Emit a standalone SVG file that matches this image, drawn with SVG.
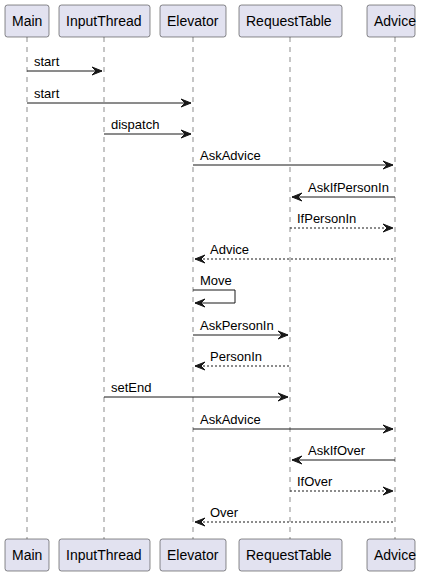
<svg xmlns="http://www.w3.org/2000/svg" width="428" height="577" viewBox="0 0 428 577">
<style>
.box{fill:#E2E2F0;stroke:#181818;stroke-width:0.5}
.pt{font-family:"Liberation Sans",Arial,sans-serif;font-size:14px;fill:#000}
.mt{font-family:"Liberation Sans",Arial,sans-serif;font-size:13px;fill:#000}
.life{stroke:#181818;stroke-width:0.5;stroke-dasharray:5,5}
.msg{stroke:#181818;stroke-width:1;fill:none}
.dash{stroke:#181818;stroke-width:1;fill:none;stroke-dasharray:2,2}
.ah{fill:#181818;stroke:#181818;stroke-width:1}
</style>
<rect width="428" height="577" fill="#FFFFFF"/>
<g id="lifelines">
<line class="life" x1="27" y1="37" x2="27" y2="539"/>
<line class="life" x1="104" y1="37" x2="104" y2="539"/>
<line class="life" x1="193" y1="37" x2="193" y2="539"/>
<line class="life" x1="290" y1="37" x2="290" y2="539"/>
<line class="life" x1="395" y1="37" x2="395" y2="539"/>
</g>
<g id="Main">
<rect class="box" x="5" y="5" width="44" height="32" rx="2.5"/>
<text class="pt" x="12" y="26">Main</text>
<rect class="box" x="5" y="539" width="44" height="32" rx="2.5"/>
<text class="pt" x="12" y="560">Main</text>
</g>
<g id="InputThread">
<rect class="box" x="59" y="5" width="91" height="32" rx="2.5"/>
<text class="pt" x="66" y="26">InputThread</text>
<rect class="box" x="59" y="539" width="91" height="32" rx="2.5"/>
<text class="pt" x="66" y="560">InputThread</text>
</g>
<g id="Elevator">
<rect class="box" x="160" y="5" width="66" height="32" rx="2.5"/>
<text class="pt" x="167" y="26">Elevator</text>
<rect class="box" x="160" y="539" width="66" height="32" rx="2.5"/>
<text class="pt" x="167" y="560">Elevator</text>
</g>
<g id="RequestTable">
<rect class="box" x="239" y="5" width="103" height="32" rx="2.5"/>
<text class="pt" x="246" y="26">RequestTable</text>
<rect class="box" x="239" y="539" width="103" height="32" rx="2.5"/>
<text class="pt" x="246" y="560">RequestTable</text>
</g>
<g id="Advice">
<rect class="box" x="367" y="5" width="48" height="32" rx="2.5"/>
<text class="pt" x="374" y="26">Advice</text>
<rect class="box" x="367" y="539" width="48" height="32" rx="2.5"/>
<text class="pt" x="374" y="560">Advice</text>
</g>
<g id="connectors">
<line class="msg" x1="27" y1="71" x2="102" y2="71"/>
<polygon class="ah" points="92,67 102,71 92,75 96,71"/>
<text class="mt" x="34" y="66">start</text>

<line class="msg" x1="27" y1="103" x2="191" y2="103"/>
<polygon class="ah" points="181,99 191,103 181,107 185,103"/>
<text class="mt" x="34" y="98">start</text>

<line class="msg" x1="104" y1="134" x2="191" y2="134"/>
<polygon class="ah" points="181,130 191,134 181,138 185,134"/>
<text class="mt" x="111" y="129">dispatch</text>

<line class="msg" x1="193" y1="165" x2="393" y2="165"/>
<polygon class="ah" points="383,161 393,165 383,169 387,165"/>
<text class="mt" x="200" y="160">AskAdvice</text>

<line class="msg" x1="292" y1="197" x2="395" y2="197"/>
<polygon class="ah" points="302,193 292,197 302,201 298,197"/>
<text class="mt" x="308" y="192">AskIfPersonIn</text>

<line class="dash" x1="290" y1="228" x2="393" y2="228"/>
<polygon class="ah" points="383,224 393,228 383,232 387,228"/>
<text class="mt" x="297" y="223">IfPersonIn</text>

<line class="dash" x1="195" y1="259" x2="395" y2="259"/>
<polygon class="ah" points="205,255 195,259 205,263 201,259"/>
<text class="mt" x="210" y="254">Advice</text>

<polyline class="msg" points="193,290 235,290 235,303 195,303"/>
<polygon class="ah" points="205,299 195,303 205,307 201,303"/>
<text class="mt" x="200" y="285">Move</text>

<line class="msg" x1="193" y1="335" x2="288" y2="335"/>
<polygon class="ah" points="278,331 288,335 278,339 282,335"/>
<text class="mt" x="200" y="330">AskPersonIn</text>

<line class="dash" x1="195" y1="366" x2="290" y2="366"/>
<polygon class="ah" points="205,362 195,366 205,370 201,366"/>
<text class="mt" x="210" y="361">PersonIn</text>

<line class="msg" x1="104" y1="397" x2="288" y2="397"/>
<polygon class="ah" points="278,393 288,397 278,401 282,397"/>
<text class="mt" x="111" y="392">setEnd</text>

<line class="msg" x1="193" y1="429" x2="393" y2="429"/>
<polygon class="ah" points="383,425 393,429 383,433 387,429"/>
<text class="mt" x="200" y="424">AskAdvice</text>

<line class="msg" x1="292" y1="460" x2="395" y2="460"/>
<polygon class="ah" points="302,456 292,460 302,464 298,460"/>
<text class="mt" x="308" y="455">AskIfOver</text>

<line class="dash" x1="290" y1="491" x2="393" y2="491"/>
<polygon class="ah" points="383,487 393,491 383,495 387,491"/>
<text class="mt" x="297" y="486">IfOver</text>

<line class="dash" x1="195" y1="522" x2="395" y2="522"/>
<polygon class="ah" points="205,518 195,522 205,526 201,522"/>
<text class="mt" x="210" y="517">Over</text>
</g>
</svg>
